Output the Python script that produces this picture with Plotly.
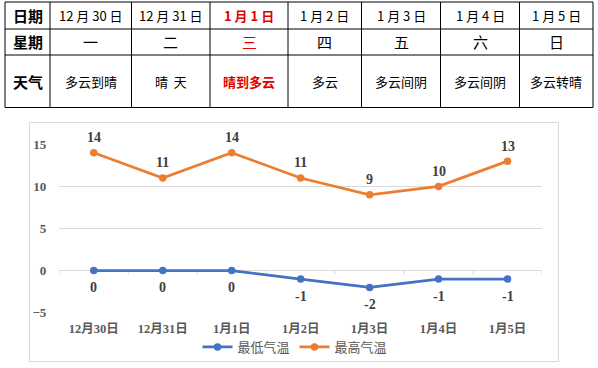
import plotly.graph_objects as go

# ---- data ----
dates = ["12月30日", "12月31日", "1月1日", "1月2日", "1月3日", "1月4日", "1月5日"]
table_dates = ["12 月 30 日", "12 月 31 日", "1 月 1 日", "1 月 2 日", "1 月 3 日", "1 月 4 日", "1 月 5 日"]
weekdays = ["一", "二", "三", "四", "五", "六", "日"]
weather = ["多云到晴", "晴  天", "晴到多云", "多云", "多云间阴", "多云间阴", "多云转晴"]
row_labels = ["日期", "星期", "天气"]
highlight_col = 2  # 1月1日
low_temp = [0, 0, 0, -1, -2, -1, -1]
high_temp = [14, 11, 14, 11, 9, 10, 13]

W, H = 598, 368
def px(x):
    return x / W
def py(y):
    return 1 - y / H

BLUE = "#4472C4"
ORANGE = "#ED7D31"
GRID = "#D9D9D9"
SERIF = "Liberation Serif, Noto Sans CJK SC"
CJK = "Noto Sans CJK SC"

fig = go.Figure()

fig.add_trace(go.Scatter(
    x=dates, y=low_temp, name="最低气温", mode="lines+markers",
    line=dict(color=BLUE, width=2.75), marker=dict(size=7.5, color=BLUE),
    cliponaxis=False,
))
fig.add_trace(go.Scatter(
    x=dates, y=high_temp, name="最高气温", mode="lines+markers",
    line=dict(color=ORANGE, width=2.75), marker=dict(size=7.5, color=ORANGE),
    cliponaxis=False,
))

shapes = []
annotations = []

# data labels
for d, v in zip(dates, low_temp):
    annotations.append(dict(xref="x", yref="y", x=d, y=v, text="<b>%d</b>" % v,
                            showarrow=False, yshift=-17, xanchor="center", yanchor="middle",
                            font=dict(family=SERIF, size=14, color="#404040")))
for d, v in zip(dates, high_temp):
    annotations.append(dict(xref="x", yref="y", x=d, y=v, text="<b>%d</b>" % v,
                            showarrow=False, yshift=15, xanchor="center", yanchor="middle",
                            font=dict(family=SERIF, size=14, color="#404040")))

# chart frame
shapes.append(dict(type="rect", xref="paper", yref="paper",
                   x0=px(29.5), x1=px(558.5), y0=py(361.5), y1=py(122.5),
                   line=dict(color=GRID, width=1), layer="below"))

# category tick marks on the horizontal (zero) axis line
for k in range(len(dates) + 1):
    shapes.append(dict(type="line", xref="x", yref="y", ysizemode="pixel", yanchor=0,
                       x0=k - 0.5, x1=k - 0.5, y0=0, y1=-4,
                       line=dict(color=GRID, width=1), layer="below"))

# ---- table ----
col_edges = [5, 50, 131.5, 210, 288, 361.5, 440.5, 519.5, 593]
row_edges = [2, 29, 55, 107.5]
for xe in col_edges:
    shapes.append(dict(type="line", xref="paper", yref="paper",
                       x0=px(xe), x1=px(xe), y0=py(row_edges[0]), y1=py(row_edges[-1]),
                       line=dict(color="black", width=1)))
for ye in row_edges:
    shapes.append(dict(type="line", xref="paper", yref="paper",
                       x0=px(col_edges[0]), x1=px(col_edges[-1]), y0=py(ye), y1=py(ye),
                       line=dict(color="black", width=1)))

rows = [table_dates, weekdays, weather]
row_sizes = [13, 15, 13]
for r, label in enumerate(row_labels):
    yc = (row_edges[r] + row_edges[r + 1]) / 2
    annotations.append(dict(xref="paper", yref="paper", x=px((col_edges[0] + col_edges[1]) / 2),
                            y=py(yc), text="<b>%s</b>" % label, showarrow=False,
                            font=dict(family=CJK, size=15, color="black"),
                            xanchor="center", yanchor="middle"))
    for c, val in enumerate(rows[r]):
        xc = (col_edges[c + 1] + col_edges[c + 2]) / 2
        red = (c == highlight_col)
        txt = "<b>%s</b>" % val if (red and r != 1) else val
        annotations.append(dict(xref="paper", yref="paper", x=px(xc), y=py(yc),
                                text=txt, showarrow=False,
                                font=dict(family=CJK, size=row_sizes[r],
                                          color="#E00000" if red else "black"),
                                xanchor="center", yanchor="middle"))

fig.update_layout(
    template="none",
    width=W, height=H,
    margin=dict(l=0, r=0, t=0, b=0, pad=0, autoexpand=False),
    paper_bgcolor="white", plot_bgcolor="white",
    shapes=shapes, annotations=annotations,
    showlegend=True,
    legend=dict(orientation="h", x=px(295), xanchor="center", y=py(347), yanchor="middle",
                font=dict(family=SERIF, size=13, color="#595959"),
                bgcolor="rgba(0,0,0,0)", itemwidth=30, tracegroupgap=0),
    xaxis=dict(domain=[px(59.3), px(542)], range=[-0.5, 6.5], type="category",
               automargin=False,
               showgrid=False, showline=False, zeroline=False, ticks="",
               tickfont=dict(family=SERIF, size=12.5, color="#595959", weight="bold"),
               ticklabelstandoff=7),
    yaxis=dict(domain=[py(312.7), py(144.3)], range=[-5, 15], dtick=5,
               automargin=False,
               showgrid=True, gridcolor=GRID, gridwidth=1,
               zeroline=True, zerolinecolor=GRID, zerolinewidth=1,
               showline=False, ticks="",
               tickfont=dict(family=SERIF, size=13, color="#595959", weight="bold"),
               ticklabelstandoff=12),
)

fig.write_html("out.html", config={"displayModeBar": False},
               post_script="document.body.style.margin='0';")
